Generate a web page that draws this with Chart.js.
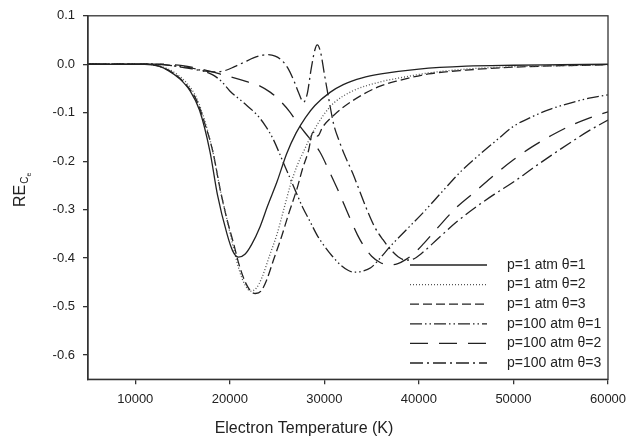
<!DOCTYPE html>
<html>
<head>
<meta charset="utf-8">
<script src="https://cdn.jsdelivr.net/npm/chart.js@4.4.1/dist/chart.umd.min.js"></script>
<style>
    body { margin: 0; background: #fff; }
    #box { width: 634px; height: 440px; }
</style>
</head>
<body>
<div id="box"><canvas id="chart"></canvas></div>
<script>
// temperaturen (K) und RE werte
let t_p1_th1 = [5000, 11000, 12500, 13500, 14700, 15800, 16800, 17900, 18700, 19700, 20300, 20900, 21600, 22300, 23200, 24000, 25000, 26000, 27000, 28000, 29000, 30600, 32000, 34000, 36000, 40000, 45000, 50000, 55000, 60000];
let re_p1_th1 = [0, 0, -0.004, -0.013, -0.03, -0.055, -0.095, -0.18, -0.27, -0.35, -0.385, -0.398, -0.392, -0.372, -0.335, -0.292, -0.242, -0.185, -0.142, -0.11, -0.085, -0.058, -0.042, -0.028, -0.02, -0.01, -0.004, -0.002, -0.001, 0];

let t_p1_th2 = [5000, 11000, 12500, 13500, 14500, 15500, 16500, 17400, 18200, 19000, 19700, 20400, 21000, 21600, 22200, 22800, 23400, 24200, 25000, 25700, 26400, 27100, 27800, 28800, 29900, 31000, 33000, 36000, 38000, 41000, 45000, 50000, 55000, 60000];
let re_p1_th2 = [0, 0, -0.003, -0.01, -0.022, -0.04, -0.07, -0.12, -0.18, -0.26, -0.32, -0.38, -0.425, -0.455, -0.468, -0.462, -0.44, -0.395, -0.35, -0.3, -0.25, -0.21, -0.18, -0.14, -0.105, -0.08, -0.055, -0.036, -0.028, -0.018, -0.01, -0.005, -0.003, -0.001];

let t_p1_th3 = [5000, 11000, 12500, 13500, 14500, 15500, 16500, 17400, 18200, 19000, 19700, 20400, 21000, 21600, 22200, 22700, 23300, 23900, 24600, 25400, 26200, 27100, 27700, 28300, 28800, 29300, 29800, 31000, 33000, 35900, 38000, 41000, 45000, 50000, 55000, 60000];
let re_p1_th3 = [0, 0, -0.004, -0.012, -0.025, -0.045, -0.075, -0.125, -0.18, -0.26, -0.32, -0.37, -0.415, -0.448, -0.468, -0.473, -0.468, -0.445, -0.405, -0.36, -0.31, -0.257, -0.215, -0.18, -0.14, -0.148, -0.13, -0.105, -0.075, -0.045, -0.033, -0.02, -0.012, -0.006, -0.003, -0.001];

let t_p100_th1 = [5000, 12000, 14000, 16000, 17200, 18200, 19100, 20000, 21500, 22900, 23800, 24600, 25600, 26700, 27700, 28500, 29300, 30000, 30800, 31700, 32500, 33200, 34000, 34900, 35900, 37000, 38000, 39000, 40500, 42500, 44500, 46500, 48500, 50000, 52000, 54000, 56000, 58000, 60000];
let re_p100_th1 = [0, 0, -0.003, -0.008, -0.014, -0.022, -0.035, -0.055, -0.08, -0.105, -0.128, -0.155, -0.2, -0.25, -0.295, -0.325, -0.355, -0.375, -0.395, -0.414, -0.425, -0.429, -0.427, -0.42, -0.4, -0.375, -0.355, -0.335, -0.305, -0.262, -0.22, -0.185, -0.152, -0.128, -0.108, -0.092, -0.08, -0.07, -0.063];

let t_p100_th2 = [5000, 13000, 15000, 17000, 19300, 21800, 23200, 24300, 25300, 26300, 27300, 28400, 29500, 30500, 31400, 32100, 32800, 33500, 34200, 35000, 35900, 36800, 37700, 38600, 39500, 40500, 42000, 44000, 46000, 48000, 50000, 52000, 54000, 56000, 58000, 60000];
let re_p100_th2 = [0, 0, -0.003, -0.01, -0.022, -0.036, -0.045, -0.058, -0.075, -0.097, -0.125, -0.152, -0.18, -0.22, -0.258, -0.29, -0.322, -0.352, -0.376, -0.396, -0.409, -0.414, -0.412, -0.403, -0.39, -0.37, -0.337, -0.295, -0.262, -0.228, -0.197, -0.17, -0.147, -0.127, -0.111, -0.098];

let t_p100_th3 = [5000, 12000, 14000, 15500, 17000, 18500, 19500, 20500, 21500, 22500, 23300, 24000, 24800, 25500, 26200, 26800, 27300, 27800, 28200, 28600, 29000, 29250, 29600, 30000, 30500, 31000, 31600, 32200, 33000, 33800, 34500, 35300, 36200, 37000, 37800, 38600, 39400, 40300, 42000, 44000, 46000, 48000, 50000, 52000, 54000, 56000, 58000, 60000];
let re_p100_th3 = [0, 0, -0.003, -0.008, -0.013, -0.016, -0.013, -0.005, 0.004, 0.013, 0.018, 0.02, 0.017, 0.008, -0.01, -0.035, -0.06, -0.078, -0.06, -0.01, 0.03, 0.04, 0.025, -0.02, -0.075, -0.125, -0.16, -0.19, -0.225, -0.265, -0.3, -0.335, -0.362, -0.382, -0.397, -0.404, -0.402, -0.39, -0.36, -0.325, -0.295, -0.268, -0.243, -0.215, -0.188, -0.162, -0.137, -0.115];

let x_ticks = [10000, 20000, 30000, 40000, 50000, 60000];
let y_ticks = [0.1, 0.0, -0.1, -0.2, -0.3, -0.4, -0.5, -0.6];

function make_points(ts, res) {
    return ts.map((t, i) => ({x: t, y: res[i]}));
}

function make_dataset(label, ts, res, dash, color) {
    return {
        label: label,
        data: make_points(ts, res),
        borderColor: color,
        borderWidth: 1.3,
        borderDash: dash,
        pointRadius: 0,
        fill: false,
        cubicInterpolationMode: 'monotone'
    };
}

// rahmen oben und rechts
const frame_plugin = {
    id: 'frame',
    afterDatasetsDraw(chart) {
        let a = chart.chartArea;
        let ctx = chart.ctx;
        ctx.save();
        ctx.strokeStyle = '#333';
        ctx.lineWidth = 1.3;
        ctx.strokeRect(a.left, a.top, a.right - a.left, a.bottom - a.top);
        ctx.restore();
    }
};

// legende unten rechts im plot
const legend_plugin = {
    id: 'own_legend',
    afterDraw(chart) {
        let ctx = chart.ctx;
        ctx.save();
        ctx.font = '14px "Liberation Sans", Arial, sans-serif';
        ctx.textBaseline = 'middle';
        ctx.fillStyle = '#222';
        chart.data.datasets.forEach((ds, i) => {
            let y = 265 + i * 19.6;
            ctx.strokeStyle = ds.borderColor;
            ctx.lineWidth = ds.borderWidth;
            ctx.setLineDash(ds.borderDash);
            ctx.beginPath();
            ctx.moveTo(410, y);
            ctx.lineTo(487, y);
            ctx.stroke();
            ctx.setLineDash([]);
            ctx.fillText(ds.label, 507, y);
        });
        ctx.restore();
    }
};

// y titel mit index
const y_title_plugin = {
    id: 'y_title',
    afterDraw(chart) {
        let ctx = chart.ctx;
        ctx.save();
        ctx.translate(25, 207);
        ctx.rotate(-Math.PI / 2);
        ctx.fillStyle = '#222';
        ctx.textBaseline = 'alphabetic';
        ctx.font = '16px "Liberation Sans", Arial, sans-serif';
        ctx.fillText('RE', 0, 0);
        let w = ctx.measureText('RE').width;
        ctx.font = '10px "Liberation Sans", Arial, sans-serif';
        ctx.fillText('C', w + 1, 3);
        let w2 = ctx.measureText('C').width;
        ctx.font = '7px "Liberation Sans", Arial, sans-serif';
        ctx.fillText('e', w + 1 + w2, 6);
        ctx.restore();
    }
};

new Chart(document.getElementById('chart'), {
    type: 'line',
    data: {
        datasets: [
            make_dataset('p=1 atm \u03b8=1', t_p1_th1, re_p1_th1, [], '#222'),
            make_dataset('p=1 atm \u03b8=2', t_p1_th2, re_p1_th2, [1, 2], '#555'),
            make_dataset('p=1 atm \u03b8=3', t_p1_th3, re_p1_th3, [9, 4], '#222'),
            make_dataset('p=100 atm \u03b8=1', t_p100_th1, re_p100_th1, [12, 3, 1.5, 3, 1.5, 3], '#222'),
            make_dataset('p=100 atm \u03b8=2', t_p100_th2, re_p100_th2, [18, 11], '#222'),
            make_dataset('p=100 atm \u03b8=3', t_p100_th3, re_p100_th3, [13, 4, 2, 4], '#222')
        ]
    },
    options: {
        responsive: true,
        maintainAspectRatio: false,
        animation: false,
        layout: { padding: { left: 0, right: 26, top: 14, bottom: 0 } },
        plugins: {
            legend: { display: false },
            tooltip: { enabled: false },
            title: {
                display: true,
                position: 'bottom',
                text: 'Electron Temperature (K)',
                color: '#222',
                font: { family: '"Liberation Sans", Arial, sans-serif', size: 16, weight: 'normal' },
                padding: { top: 0, bottom: 2 }
            }
        },
        scales: {
            x: {
                type: 'linear',
                min: 5000,
                max: 60000,
                afterBuildTicks: (scale) => { scale.ticks = x_ticks.map(v => ({value: v})); },
                afterFit: (scale) => { scale.height = 39.5; },
                grid: { display: true, drawOnChartArea: false, tickLength: 5, color: '#333', lineWidth: 1.3 },
                border: { display: true, color: '#333', width: 1.3 },
                ticks: {
                    color: '#222',
                    padding: 7,
                    maxRotation: 0,
                    font: { family: '"Liberation Sans", Arial, sans-serif', size: 13 },
                    callback: (v) => String(v)
                }
            },
            y: {
                min: -0.65,
                max: 0.1,
                afterBuildTicks: (scale) => { scale.ticks = y_ticks.map(v => ({value: v})); },
                afterFit: (scale) => { scale.width = 88; },
                grid: { display: true, drawOnChartArea: false, tickLength: 5, color: '#333', lineWidth: 1.3 },
                border: { display: true, color: '#333', width: 1.3 },
                ticks: {
                    color: '#222',
                    padding: 8,
                    font: { family: '"Liberation Sans", Arial, sans-serif', size: 13 },
                    callback: (v) => v.toFixed(1)
                }
            }
        }
    },
    plugins: [frame_plugin, legend_plugin, y_title_plugin]
});
</script>
</body>
</html>
